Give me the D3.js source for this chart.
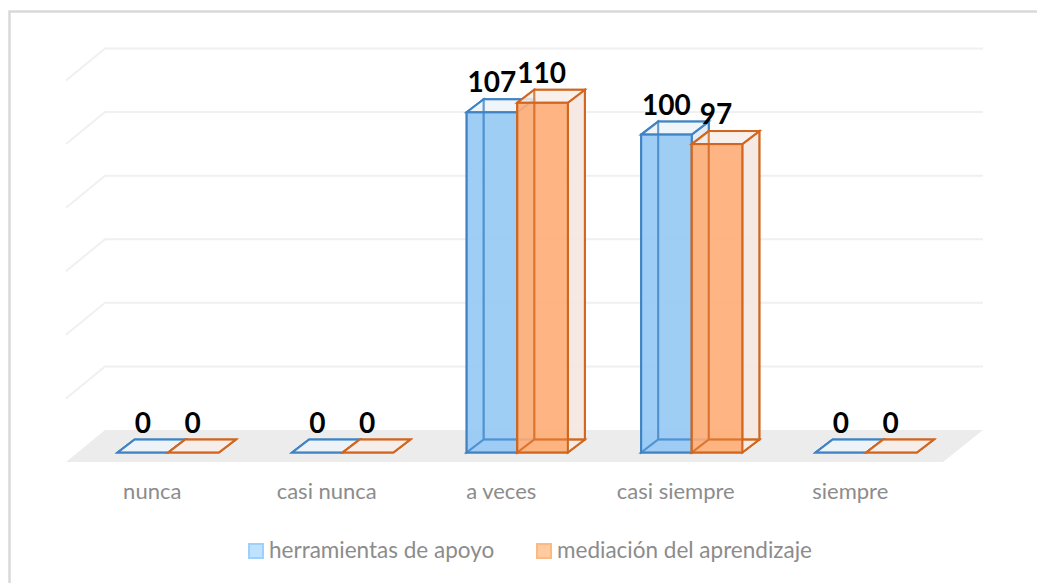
<!DOCTYPE html>
<html>
<head>
<meta charset="utf-8">
<script src="https://cdn.jsdelivr.net/npm/d3@7"></script>
<style>
html, body { margin: 0; padding: 0; background: #fff; overflow: hidden; }
text { font-family: Lato, "Open Sans", sans-serif; }
</style>
</head>
<body>
<script>
// values
var categories = ["nunca", "casi nunca", "a veces", "casi siempre", "siempre"];
var seriesNames = ["herramientas de apoyo", "mediación del aprendizaje"];
var apoyo = [0, 0, 107, 100, 0];
var mediacion = [0, 0, 110, 97, 0];
var gridValues = [20, 40, 60, 80, 100, 120];

var width = 1037, height = 583;
var dx = 17, dy = -13; // depth of one bar
var blue = {stroke: "#3f83c4", front: "#8ac3f4", side: "#dfe9f3", top: "#eef3f8"};
var orange = {stroke: "#d0661f", front: "#ffa566", side: "#f4e6df", top: "#f8eee8"};

var svg = d3.select("body").append("svg")
	.attr("width", width)
	.attr("height", height)
	.style("display", "block");

// outer frame of the chart
svg.append("rect")
	.attr("x", 9.5)
	.attr("y", 11.5)
	.attr("width", 1040)
	.attr("height", 600)
	.attr("fill", "#fff")
	.attr("stroke", "#d9d9d9")
	.attr("stroke-width", 2.5);

var x = d3.scaleBand()
	.domain(categories)
	.range([81, 953.5])
	.paddingInner(0.42)
	.paddingOuter(0.21);

var inner = d3.scaleBand()
	.domain(seriesNames)
	.range([0, x.bandwidth()]);

var y = d3.scaleLinear()
	.domain([0, 120])
	.range([452.5, 71]);

// floor
var floorPts = [[66, 462], [105, 430], [983, 430], [943, 462]];
svg.append("polygon")
	.attr("points", floorPts.join(" "))
	.attr("fill", "#ececec");

// gridlines: wall line + side line
var grid = svg.append("g").attr("class", "grid");
gridValues.forEach(function(v) {
	var yb = y(v) - 22.5;
	grid.append("path")
		.attr("d", "M66," + (yb + 32) + "L105," + yb + "H983")
		.attr("fill", "none")
		.attr("stroke", "#f0f0f0")
		.attr("stroke-width", 2);
});

function drawBar(g, x0, w, v, c) {
	var y0 = y(0), y1 = y(v);
	// back, side and top faces first
	g.append("rect")
		.attr("x", x0 + dx).attr("y", y1 + dy)
		.attr("width", w).attr("height", y0 - y1)
		.attr("fill", c.top).attr("fill-opacity", 0.5).attr("stroke", c.stroke).attr("stroke-width", 2);
	g.append("path")
		.attr("d", "M" + x0 + "," + y0 + "l" + dx + "," + dy + "v" + (y1 - y0) + "l" + (-dx) + "," + (-dy) + "z")
		.attr("fill", c.side).attr("fill-opacity", 0.5).attr("stroke", c.stroke).attr("stroke-width", 2);
	g.append("path")
		.attr("d", "M" + (x0 + w) + "," + y0 + "l" + dx + "," + dy + "v" + (y1 - y0) + "l" + (-dx) + "," + (-dy) + "z")
		.attr("fill", c.side).attr("fill-opacity", 0.85).attr("stroke", c.stroke).attr("stroke-width", 2);
	// bottom
	g.append("path")
		.attr("d", "M" + x0 + "," + y0 + "h" + w + "l" + dx + "," + dy + "h" + (-w) + "z")
		.attr("fill", c.top).attr("fill-opacity", 0.6).attr("stroke", c.stroke).attr("stroke-width", 2);
	// top
	g.append("path")
		.attr("d", "M" + x0 + "," + y1 + "h" + w + "l" + dx + "," + dy + "h" + (-w) + "z")
		.attr("fill", c.top).attr("fill-opacity", 0.7).attr("stroke", c.stroke).attr("stroke-width", 2);
	// front
	g.append("rect")
		.attr("x", x0).attr("y", y1)
		.attr("width", w).attr("height", y0 - y1)
		.attr("fill", c.front).attr("fill-opacity", 0.8).attr("stroke", c.stroke).attr("stroke-width", 2);
	// hidden edges show through the glass front
	if (v > 0) {
		g.append("path")
			.attr("d", "M" + (x0 + dx) + "," + (y1 + dy) + "V" + (y0 + dy) + "H" + (x0 + dx + w)
				+ "M" + x0 + "," + y0 + "l" + dx + "," + dy)
			.attr("fill", "none")
			.attr("stroke", c.stroke)
			.attr("stroke-opacity", 0.7)
			.attr("stroke-width", 2);
	}
}

var bars = svg.append("g").attr("class", "bars");
categories.forEach(function(cat, i) {
	drawBar(bars, x(cat) + inner(seriesNames[0]), inner.bandwidth(), apoyo[i], blue);
	drawBar(bars, x(cat) + inner(seriesNames[1]), inner.bandwidth(), mediacion[i], orange);
});

// data labels
var labels = svg.append("g").attr("class", "labels")
	.attr("font-size", "28px")
	.attr("font-weight", 700)
	.attr("fill", "#000")
	.attr("text-anchor", "middle");
categories.forEach(function(cat, i) {
	labels.append("text")
		.attr("x", x(cat) + inner(seriesNames[0]) + inner.bandwidth() / 2)
		.attr("y", y(apoyo[i]) - 20)
		.text(apoyo[i]);
	labels.append("text")
		.attr("x", x(cat) + inner(seriesNames[1]) + inner.bandwidth() / 2 - 1)
		.attr("y", y(mediacion[i]) - 20)
		.text(mediacion[i]);
});

// category labels
svg.append("g").selectAll("text")
	.data(categories)
	.enter().append("text")
	.attr("x", function(d) { return x(d) + x.bandwidth() / 2 - 16; })
	.attr("y", 499)
	.attr("text-anchor", "middle")
	.attr("font-size", "22px")
	.attr("fill", "#8c8c8c")
	.text(function(d) { return d; });

// legend
var legendItems = [
	{name: seriesNames[0], x: 248, fill: "#bfe3ff", stroke: "#9dd0fb"},
	{name: seriesNames[1], x: 536, fill: "#ffcb9f", stroke: "#fbb984"}
];
legendItems.forEach(function(d) {
	svg.append("rect")
		.attr("x", d.x + 1).attr("y", 544)
		.attr("width", 14).attr("height", 14)
		.attr("fill", d.fill).attr("stroke", d.stroke).attr("stroke-width", 2);
	svg.append("text")
		.attr("x", d.x + 21).attr("y", 558)
		.attr("font-size", "22.5px")
		.attr("fill", "#8c8c8c")
		.text(d.name);
});
</script>
</body>
</html>
